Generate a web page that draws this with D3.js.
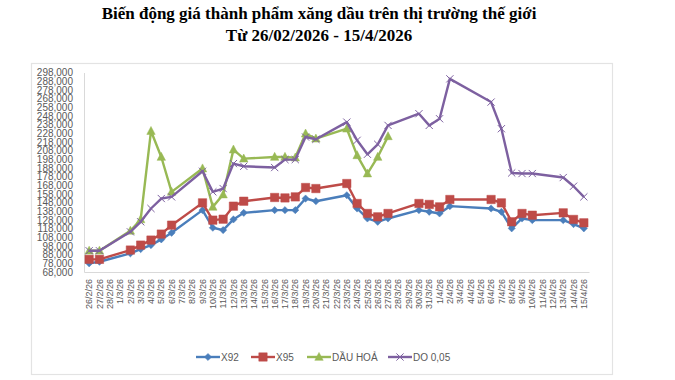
<!DOCTYPE html>
<html>
<head>
<meta charset="utf-8">
<script src="https://cdn.jsdelivr.net/npm/d3@7"></script>
<style>
  html, body { margin: 0; padding: 0; background: #fff; }
  svg { display: block; }
</style>
</head>
<body>
<svg id="chart" width="675" height="380"></svg>
<script>
const titleLines = ["Biến động giá thành phẩm xăng dầu trên thị trường thế giới", "Từ 26/02/2026 - 15/4/2026"];

const dates = ["26/2/26","27/2/26","28/2/26","1/3/26","2/3/26","3/3/26","4/3/26","5/3/26","6/3/26","7/3/26","8/3/26","9/3/26","10/3/26","11/3/26","12/3/26","13/3/26","14/3/26","15/3/26","16/3/26","17/3/26","18/3/26","19/3/26","20/3/26","21/3/26","22/3/26","23/3/26","24/3/26","25/3/26","26/3/26","27/3/26","28/3/26","29/3/26","30/3/26","31/3/26","1/4/26","2/4/26","3/4/26","4/4/26","5/4/26","6/4/26","7/4/26","8/4/26","9/4/26","10/4/26","11/4/26","12/4/26","13/4/26","14/4/26","15/4/26"];

const x92 = [78000,79800,null,null,89500,94400,99000,105600,113200,null,null,139300,119000,116300,128600,136200,null,null,139300,139300,139300,152700,149600,null,null,156500,141200,129700,125900,129700,null,null,139300,137400,135500,143900,null,null,null,141200,137400,118300,129700,127800,null,null,127800,123200,118300];

const x95 = [82600,82600,null,null,93300,99000,104800,111700,122000,null,null,147700,127800,128900,143900,149600,null,null,153900,153400,154600,165400,164200,null,null,170000,147000,135500,131600,135500,null,null,147000,145900,143100,151600,null,null,null,151600,147700,125900,135500,133500,null,null,136200,128600,124700];

const dauHoa = [92500,92500,null,null,115500,128600,230500,200600,160400,null,null,187300,143100,157300,209100,198700,null,null,200600,200600,199900,227500,221700,null,null,233200,202500,181500,200600,224400,null,null,null,null,null,null,null,null,null,null,null,null,null,null,null,null,null,null,null];

const do005 = [92500,92500,null,null,114300,125900,141200,152700,154600,null,null,184100,160400,164200,193000,189900,null,null,188400,197600,197600,223600,221000,null,null,240800,219800,203700,215200,237000,null,null,250500,237000,244700,290700,null,null,null,263900,233200,182200,181500,181500,null,null,176900,166900,154600];

const yTicks = [68000,78000,88000,98000,108000,118000,128000,138000,148000,158000,168000,178000,188000,198000,208000,218000,228000,238000,248000,258000,268000,278000,288000,298000];

const seriesNames = ["X92","X95","DẦU HOẢ","DO 0,05"];
const seriesData = [x92, x95, dauHoa, do005];
const seriesColors = ["#4A7EBB","#BE4B48","#98B954","#7D60A0"];
const seriesMarkers = ["diamond","square","triangle","x"];

const svg = d3.select("#chart");

// outer chart border
svg.append("rect").attr("x",31.5).attr("y",63.5).attr("width",581).attr("height",311)
  .attr("fill","none").attr("stroke","#e3e3e3").attr("stroke-width",1.2);

// title
svg.selectAll("text.title").data(titleLines).enter().append("text")
  .attr("class","title")
  .attr("x",319).attr("y",(d,i)=>19 + i*22)
  .attr("text-anchor","middle")
  .attr("font-family","'Liberation Serif', 'Times New Roman', serif")
  .attr("font-weight","bold").attr("font-size","17px").attr("fill","#000")
  .text(d=>d);

const plotLeft = 84, plotRight = 589, plotTop = 72.5, plotBottom = 272;
const x = d3.scaleBand().domain(dates).range([plotLeft,plotRight]).padding(0);
const y = d3.scaleLinear().domain([68000,298000]).range([plotBottom,plotTop]);

// y axis
const yAxis = d3.axisLeft(y).tickValues(yTicks).tickSize(0).tickPadding(11)
  .tickFormat(d3.format(","));
const gy = svg.append("g").attr("transform",`translate(${plotLeft},0)`).call(yAxis);
gy.select(".domain").attr("stroke","#d9d9d9").attr("stroke-width",1);
gy.selectAll("text").attr("font-family","'Liberation Sans', Arial, sans-serif")
  .attr("font-size","10px").attr("fill","#595959");

// x axis
const xAxis = d3.axisBottom(x).tickSize(0).tickPadding(0);
const gx = svg.append("g").attr("transform",`translate(0,${plotBottom})`).call(xAxis);
gx.select(".domain").attr("stroke","#d9d9d9").attr("stroke-width",1.2);
gx.selectAll("text")
  .attr("font-family","'Liberation Sans', Arial, sans-serif")
  .attr("font-size","9px").attr("fill","#595959")
  .attr("text-anchor","end")
  .attr("transform","rotate(-90)")
  .attr("x",-7).attr("y",0).attr("dy","0.35em");

const cx = i => x(dates[i]) + x.bandwidth()/2;

function markerPath(type, s) {
  if (type === "diamond") return `M0,${-s}L${s},0L0,${s}L${-s},0Z`;
  if (type === "square") return `M${-s},${-s}H${s}V${s}H${-s}Z`;
  if (type === "triangle") return `M0,${-s*1.1}L${s},${s*0.8}L${-s},${s*0.8}Z`;
  return `M${-s},${-s}L${s},${s}M${-s},${s}L${s},${-s}`;
}
const markerSize = [3.6,4.2,4.2,3.6];

const line = d3.line().x(d=>cx(d.i)).y(d=>y(d.v));

seriesData.forEach((vals, k) => {
  const pts = vals.map((v,i)=>({i,v})).filter(d=>d.v !== null);
  const g = svg.append("g");
  g.append("path").attr("d", line(pts)).attr("fill","none")
    .attr("stroke", seriesColors[k]).attr("stroke-width",2.4)
    .attr("stroke-linejoin","round");
  g.selectAll("path.m").data(pts).enter().append("path").attr("class","m")
    .attr("transform", d=>`translate(${cx(d.i)},${y(d.v)})`)
    .attr("d", markerPath(seriesMarkers[k], markerSize[k]))
    .attr("fill", seriesMarkers[k]==="x" ? "none" : seriesColors[k])
    .attr("stroke", seriesColors[k])
    .attr("stroke-width", seriesMarkers[k]==="x" ? 1 : 0.5);
});

// legend
const legendX = [196, 251, 307, 388];
const lg = svg.append("g").attr("transform","translate(0,357)");
seriesNames.forEach((name,k)=>{
  const g = lg.append("g").attr("transform",`translate(${legendX[k]},0)`);
  g.append("line").attr("x1",0).attr("x2",24).attr("y1",0).attr("y2",0)
    .attr("stroke",seriesColors[k]).attr("stroke-width",2.4);
  g.append("path").attr("transform","translate(12,0)")
    .attr("d", markerPath(seriesMarkers[k], markerSize[k]))
    .attr("fill", seriesMarkers[k]==="x" ? "none" : seriesColors[k])
    .attr("stroke", seriesColors[k]).attr("stroke-width", seriesMarkers[k]==="x" ? 1 : 0.5);
  g.append("text").attr("x",25).attr("y",0).attr("dy","0.35em")
    .attr("font-family","'Liberation Sans', Arial, sans-serif")
    .attr("font-size","10px").attr("fill","#595959").text(name);
});
</script>
</body>
</html>
